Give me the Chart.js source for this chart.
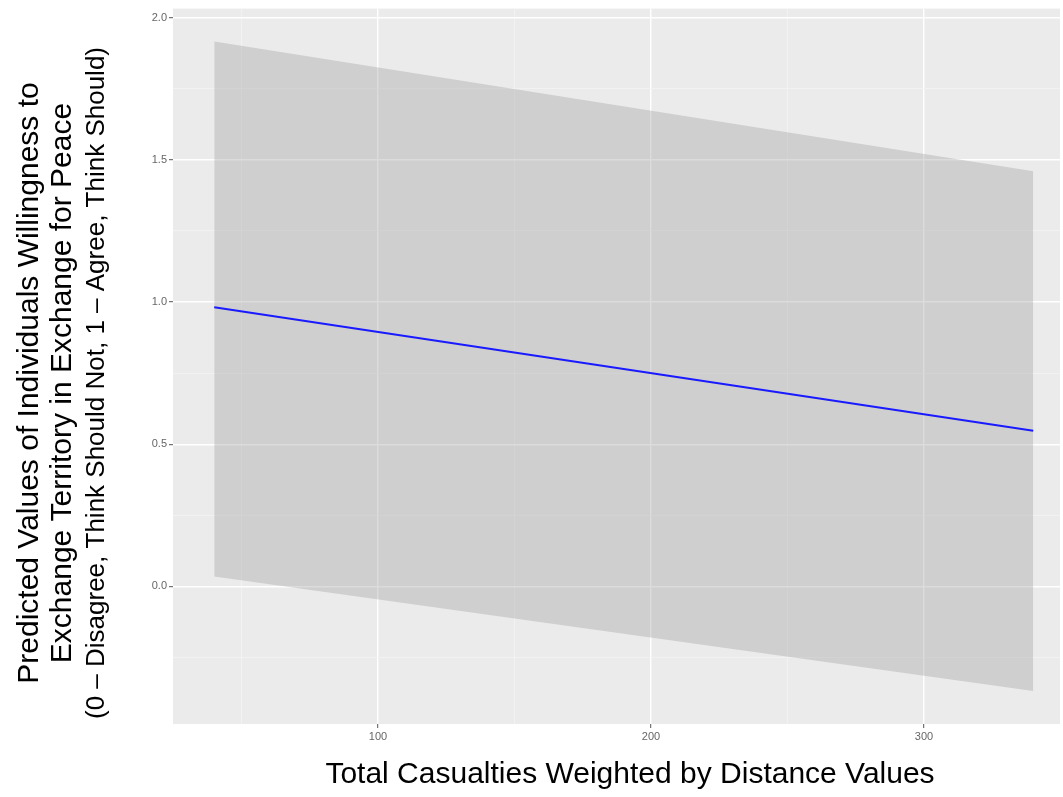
<!DOCTYPE html>
<html>
<head>
<meta charset="utf-8">
<script src="https://cdn.jsdelivr.net/npm/chart.js@4.4.1/dist/chart.umd.min.js"></script>
<style>
html,body{margin:0;padding:0;background:#fff;}
#wrap{width:1063px;height:797px;position:relative;}
</style>
</head>
<body>
<div id="wrap"><canvas id="c" width="1063" height="797"></canvas></div>
<script>
// Data
const xValues = [40, 340];
const predicted = [0.982, 0.547];
const upperBound = [1.916, 1.46];
const lowerBound = [0.035, -0.368];

const yMajorTicks = [0, 0.5, 1.0, 1.5, 2.0];
const yMinorTicks = [-0.25, 0.25, 0.75, 1.25, 1.75];
const xMajorTicks = [100, 200, 300];
const xMinorTicks = [50, 150, 250];

const yTitleLines = [
  "Predicted Values of Individuals Willingness to",
  "Exchange Territory in Exchange for Peace",
  "(0 \u2013 Disagree, Think Should Not, 1 \u2013 Agree, Think Should)"
];
const xTitle = "Total Casualties Weighted by Distance Values";

const FONT = "'Liberation Sans', Arial, sans-serif";

const toPts = (ys) => xValues.map((x, i) => ({x: x, y: ys[i]}));

const bgPlugin = {
  id: 'panelBg',
  beforeDraw(chart) {
    const {ctx, chartArea: a} = chart;
    ctx.save();
    ctx.fillStyle = '#ebebeb';
    ctx.fillRect(a.left, a.top, a.right - a.left, a.bottom - a.top);
    ctx.restore();
  }
};

const titlePlugin = {
  id: 'titles',
  afterDraw(chart) {
    const ctx = chart.ctx;
    ctx.save();
    ctx.fillStyle = '#000';
    ctx.textAlign = 'center';
    ctx.textBaseline = 'middle';
    const cy = 383;
    const xs = [30, 63, 97];
    const sizes = [30, 30, 26];
    yTitleLines.forEach((t, i) => {
      ctx.save();
      ctx.translate(xs[i], cy);
      ctx.rotate(-Math.PI / 2);
      ctx.font = sizes[i] + 'px ' + FONT;
      ctx.fillText(t, 0, 0);
      ctx.restore();
    });
    ctx.font = '30px ' + FONT;
    ctx.fillText(xTitle, 630, 775);
    ctx.restore();
  }
};

const isMajor = (v, list) => list.some(m => Math.abs(m - v) < 1e-6);

new Chart(document.getElementById('c'), {
  type: 'line',
  data: {
    datasets: [
      {
        label: 'upper',
        data: toPts(upperBound),
        borderWidth: 0,
        borderColor: 'rgba(0,0,0,0)',
        pointRadius: 0,
        fill: '+1',
        backgroundColor: 'rgba(153,153,153,0.34)',
        order: 2
      },
      {
        label: 'lower',
        data: toPts(lowerBound),
        borderWidth: 0,
        borderColor: 'rgba(0,0,0,0)',
        pointRadius: 0,
        fill: false,
        order: 3
      },
      {
        label: 'predicted',
        data: toPts(predicted),
        borderColor: '#1a1aff',
        borderWidth: 2,
        pointRadius: 0,
        fill: false,
        order: 1
      }
    ]
  },
  options: {
    responsive: false,
    animation: false,
    layout: {padding: {top: 7, right: 3, left: 0, bottom: 0}},
    plugins: {legend: {display: false}, tooltip: {enabled: false}},
    scales: {
      x: {
        type: 'linear',
        min: 24.9,
        max: 349.8,
        afterBuildTicks(scale) {
          scale.ticks = [...xMinorTicks, ...xMajorTicks].sort((a, b) => a - b).map(v => ({value: v}));
        },
        afterFit(scale) { scale.height = 73; },
        border: {display: false},
        grid: {
          color: (c) => isMajor(c.tick.value, xMajorTicks) ? '#ffffff' : '#f4f4f4',
          lineWidth: (c) => isMajor(c.tick.value, xMajorTicks) ? 1.4 : 0.8,
          tickColor: (c) => isMajor(c.tick.value, xMajorTicks) ? '#555' : 'rgba(0,0,0,0)',
          tickLength: 4,
          tickWidth: 1
        },
        ticks: {
          autoSkip: false,
          maxRotation: 0,
          padding: 2,
          color: '#666',
          font: {family: FONT, size: 11},
          callback: (v) => isMajor(v, xMajorTicks) ? String(v) : ''
        }
      },
      y: {
        type: 'linear',
        min: -0.484,
        max: 2.032,
        afterBuildTicks(scale) {
          scale.ticks = [...yMinorTicks, ...yMajorTicks].sort((a, b) => a - b).map(v => ({value: v}));
        },
        afterFit(scale) { scale.width = 173; },
        border: {display: false},
        grid: {
          color: (c) => isMajor(c.tick.value, yMajorTicks) ? '#ffffff' : '#f4f4f4',
          lineWidth: (c) => isMajor(c.tick.value, yMajorTicks) ? 1.4 : 0.8,
          tickColor: (c) => isMajor(c.tick.value, yMajorTicks) ? '#555' : 'rgba(0,0,0,0)',
          tickLength: 4,
          tickWidth: 1
        },
        ticks: {
          autoSkip: false,
          padding: 2,
          color: '#666',
          font: {family: FONT, size: 11},
          callback: (v) => isMajor(v, yMajorTicks) ? v.toFixed(1) : ''
        }
      }
    }
  },
  plugins: [bgPlugin, titlePlugin]
});
</script>
</body>
</html>
